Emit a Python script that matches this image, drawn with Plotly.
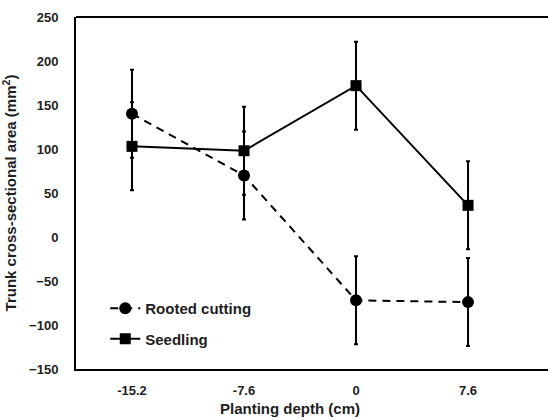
import plotly.graph_objects as go

depths = ["-15.2", "-7.6", "0", "7.6"]
rooted = [140, 70, -72, -74]
rooted_err = [50, 50, 50, 50]
seedling = [103, 98, 172, 36]
seedling_err = [50, 50, 50, 50]
y_ticks = [-150, -100, -50, 0, 50, 100, 150, 200, 250]

FONT = "Liberation Sans, Arial, sans-serif"
TXT = "#1e1e1e"

fig = go.Figure()
fig.add_trace(go.Scatter(
    x=depths, y=rooted, name="Rooted cutting", mode="lines+markers",
    line=dict(color="black", width=2, dash="8px,6px"),
    marker=dict(symbol="circle", size=12, color="black"),
    error_y=dict(type="data", array=rooted_err, color="black", thickness=2, width=2),
    legendgroup="a",
))
fig.add_trace(go.Scatter(
    x=depths, y=seedling, name="Seedling", mode="lines+markers",
    line=dict(color="black", width=2),
    marker=dict(symbol="square", size=11, color="black"),
    error_y=dict(type="data", array=seedling_err, color="black", thickness=2, width=2),
    legendgroup="b",
))

fig.update_layout(
    width=548, height=420,
    margin=dict(l=76, r=0, t=17, b=51),
    plot_bgcolor="white", paper_bgcolor="white",
    font=dict(family=FONT, size=13, color=TXT, weight="bold"),
    showlegend=True,
    legend=dict(x=0.062, y=0.04, xanchor="left", yanchor="bottom",
                bgcolor="rgba(0,0,0,0)", tracegroupgap=8,
                font=dict(size=15, family=FONT, weight="bold", color=TXT),
                itemwidth=30),
    xaxis=dict(type="category", range=[-0.5, 3.714], showgrid=False,
               showline=True, linecolor="black", linewidth=2,
               ticks="", tickfont=dict(size=13, weight="bold"), ticklabelstandoff=8),
    yaxis=dict(range=[-150, 250], tickvals=y_ticks, showgrid=False, zeroline=False,
               showline=True, linecolor="black", linewidth=2,
               ticks="", ticklabelstandoff=13, tickfont=dict(size=13, weight="bold"),
               title=dict(text="Trunk cross-sectional area (mm<sup>2</sup>)",
                          font=dict(size=15, weight="bold"), standoff=10)),
    shapes=[dict(type="line", xref="paper", yref="paper", x0=0, x1=1, y0=1, y1=1,
                 line=dict(color="black", width=2))],
    annotations=[dict(text="Planting depth (cm)", xref="paper", yref="paper",
                      x=(290 - 76) / 472, y=0, yshift=-39, yanchor="middle",
                      showarrow=False, font=dict(size=15, weight="bold", color=TXT))],
)

fig.write_html("out.html")
